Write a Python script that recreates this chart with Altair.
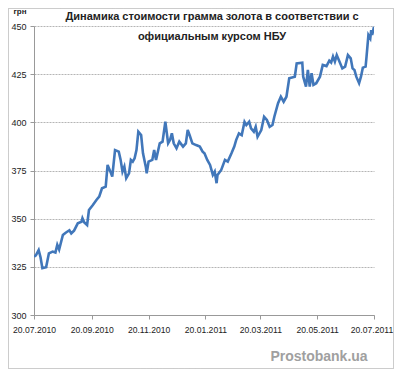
import altair as alt
import pandas as pd

dates = [
    "2010-07-20", "2010-07-22", "2010-07-25", "2010-07-27", "2010-07-29", "2010-08-02",
    "2010-08-05", "2010-08-09", "2010-08-12", "2010-08-14", "2010-08-16", "2010-08-20",
    "2010-08-23", "2010-08-27", "2010-08-29", "2010-09-01", "2010-09-05", "2010-09-09",
    "2010-09-10", "2010-09-12", "2010-09-15", "2010-09-17", "2010-09-21", "2010-09-25",
    "2010-09-28", "2010-10-01", "2010-10-05", "2010-10-07", "2010-10-10", "2010-10-12",
    "2010-10-15", "2010-10-19", "2010-10-21", "2010-10-23", "2010-10-25", "2010-10-27",
    "2010-10-30", "2010-11-01", "2010-11-03", "2010-11-05", "2010-11-07", "2010-11-09",
    "2010-11-12", "2010-11-14", "2010-11-17", "2010-11-18", "2010-11-20", "2010-11-24",
    "2010-11-26", "2010-11-28", "2010-12-02", "2010-12-05", "2010-12-08", "2010-12-11",
    "2010-12-13", "2010-12-15", "2010-12-17", "2010-12-20", "2010-12-23", "2010-12-27",
    "2010-12-30", "2011-01-01", "2011-01-03", "2011-01-06", "2011-01-10", "2011-01-14",
    "2011-01-17", "2011-01-19", "2011-01-22", "2011-01-25", "2011-01-28", "2011-01-30",
    "2011-02-01", "2011-02-02", "2011-02-06", "2011-02-10", "2011-02-13", "2011-02-17",
    "2011-02-20", "2011-02-22", "2011-02-25", "2011-02-28", "2011-03-03", "2011-03-05",
    "2011-03-08", "2011-03-10", "2011-03-13", "2011-03-15", "2011-03-17", "2011-03-21",
    "2011-03-24", "2011-03-27", "2011-03-30", "2011-04-02", "2011-04-04", "2011-04-08",
    "2011-04-11", "2011-04-14", "2011-04-17", "2011-04-20", "2011-04-26", "2011-04-28",
    "2011-05-04", "2011-05-05", "2011-05-08", "2011-05-10", "2011-05-12", "2011-05-14",
    "2011-05-16", "2011-05-19", "2011-05-23", "2011-05-26", "2011-05-30", "2011-06-02",
    "2011-06-04", "2011-06-06", "2011-06-08", "2011-06-10", "2011-06-13", "2011-06-16",
    "2011-06-19", "2011-06-22", "2011-06-25", "2011-06-27", "2011-06-29", "2011-07-01",
    "2011-07-04", "2011-07-06", "2011-07-08", "2011-07-11", "2011-07-12", "2011-07-14",
    "2011-07-16", "2011-07-17", "2011-07-18", "2011-07-20",
]
prices = [
    330.3, 331.0, 333.7, 330.0, 324.3, 324.8,
    332.0, 332.9, 332.4, 336.4, 334.0, 341.5,
    342.7, 344.0, 342.4, 343.8, 347.6, 348.4,
    350.2, 348.0, 346.7, 354.5, 357.0, 359.7,
    361.4, 365.8, 366.6, 377.9, 374.4, 371.8,
    385.6, 384.8, 380.5, 374.4, 377.0, 371.0,
    373.5, 380.5, 379.6, 381.3, 385.6, 395.1,
    393.4, 383.9, 377.0, 373.5, 379.6, 380.5,
    385.6, 380.5, 389.1, 390.0, 400.3, 389.1,
    390.8, 394.3, 389.1, 386.5, 390.0, 387.4,
    389.1, 396.0, 393.4, 389.1, 388.2, 387.4,
    384.8, 383.9, 380.5, 377.9, 372.7, 374.4,
    368.4, 372.7, 375.3, 380.5, 379.6, 383.9,
    387.4, 390.8, 394.3, 393.4, 400.3, 398.6,
    400.3, 396.9, 395.1, 397.7, 392.5, 396.0,
    402.9, 401.2, 397.7, 398.6, 402.9, 409.9,
    413.3, 410.7, 413.3, 422.9, 423.7, 430.6,
    431.0, 423.7, 418.5, 427.2, 418.5, 425.5,
    419.4, 420.3, 423.7, 429.8, 429.2, 432.0,
    431.0, 434.1, 431.5, 434.9, 431.5, 428.0,
    428.9, 434.9, 433.2, 428.0, 427.2, 423.7,
    420.3, 423.7, 428.4, 428.9, 434.1, 445.3,
    443.6, 447.9, 445.3, 449.6,
]

title_lines = ["Динамика стоимости грамма золота в соответствии с",
               "официальным курсом НБУ"]
unit_label = "грн"
watermark = "Prostobank.ua"
y_ticks = [300, 325, 350, 375, 400, 425, 450]
x_tick_dates = [(2010, 7, 20), (2010, 9, 20), (2010, 11, 20), (2011, 1, 20),
                (2011, 3, 20), (2011, 5, 20), (2011, 7, 20)]

df = pd.DataFrame({"date": pd.to_datetime(dates), "price": prices})

x_values = [alt.DateTime(year=y, month=m, date=d) for (y, m, d) in x_tick_dates]

last_label = "datum.value > 1309000000000"

line = alt.Chart(df).mark_line(color="#4177BA", strokeWidth=2.6, clip=True).encode(
    x=alt.X("date:T",
            scale=alt.Scale(domain=[x_values[0], x_values[-1]]),
            axis=alt.Axis(values=x_values, format="%d.%m.%Y", title=None,
                          grid=False, labelFontSize=8.6, labelColor="#222",
                          labelFont="Liberation Sans", domainColor="#999",
                          tickColor="#999", tickSize=4, labelPadding=6,
                          labelFlush=False, labelBound=False,
                          labelOffset=alt.condition(last_label, alt.value(-2.5), alt.value(0)))),
    y=alt.Y("price:Q",
            scale=alt.Scale(domain=[300, 450], nice=False, zero=False),
            axis=alt.Axis(values=y_ticks, title=None, grid=True,
                          gridColor="#b5b5b5", gridDash=[2, 1], gridWidth=1,
                          labelFontSize=9, labelColor="#222",
                          labelFont="Liberation Sans", domainColor="#999",
                          tickColor="#999", tickSize=4, labelPadding=4)),
)

one = pd.DataFrame({"k": [0]})

title = alt.Chart(one).mark_text(
    text=title_lines, font="Liberation Sans", fontSize=11, fontWeight="bold",
    color="#222", align="center", baseline="middle", lineHeight=20,
).encode(x=alt.value(178), y=alt.value(-9))

unit = alt.Chart(one).mark_text(
    text=unit_label, font="Liberation Sans", fontSize=8, fontWeight="bold",
    color="#222", align="center", baseline="middle",
).encode(x=alt.value(-14), y=alt.value(-14))

wm = alt.Chart(one).mark_text(
    text=watermark, font="Liberation Sans", fontSize=14, fontWeight="bold",
    color="#a0a0a0", align="center", baseline="middle",
).encode(x=alt.value(285), y=alt.value(331))

border = alt.Chart(one).mark_rect(
    fill=None, stroke="#999", strokeDash=[1, 1], strokeWidth=1,
).encode(x=alt.value(-25.5), x2=alt.value(359.5), y=alt.value(-17.5), y2=alt.value(342.5))

chart = alt.layer(border, line, title, unit, wm).properties(
    width=340, height=289,
    padding={"left": 26, "top": 18, "right": 20, "bottom": 54},
    autosize=alt.AutoSizeParams(type="none"),
).configure_view(stroke=None)

chart.save("out.html", embed_options={"renderer": "svg", "actions": False})
